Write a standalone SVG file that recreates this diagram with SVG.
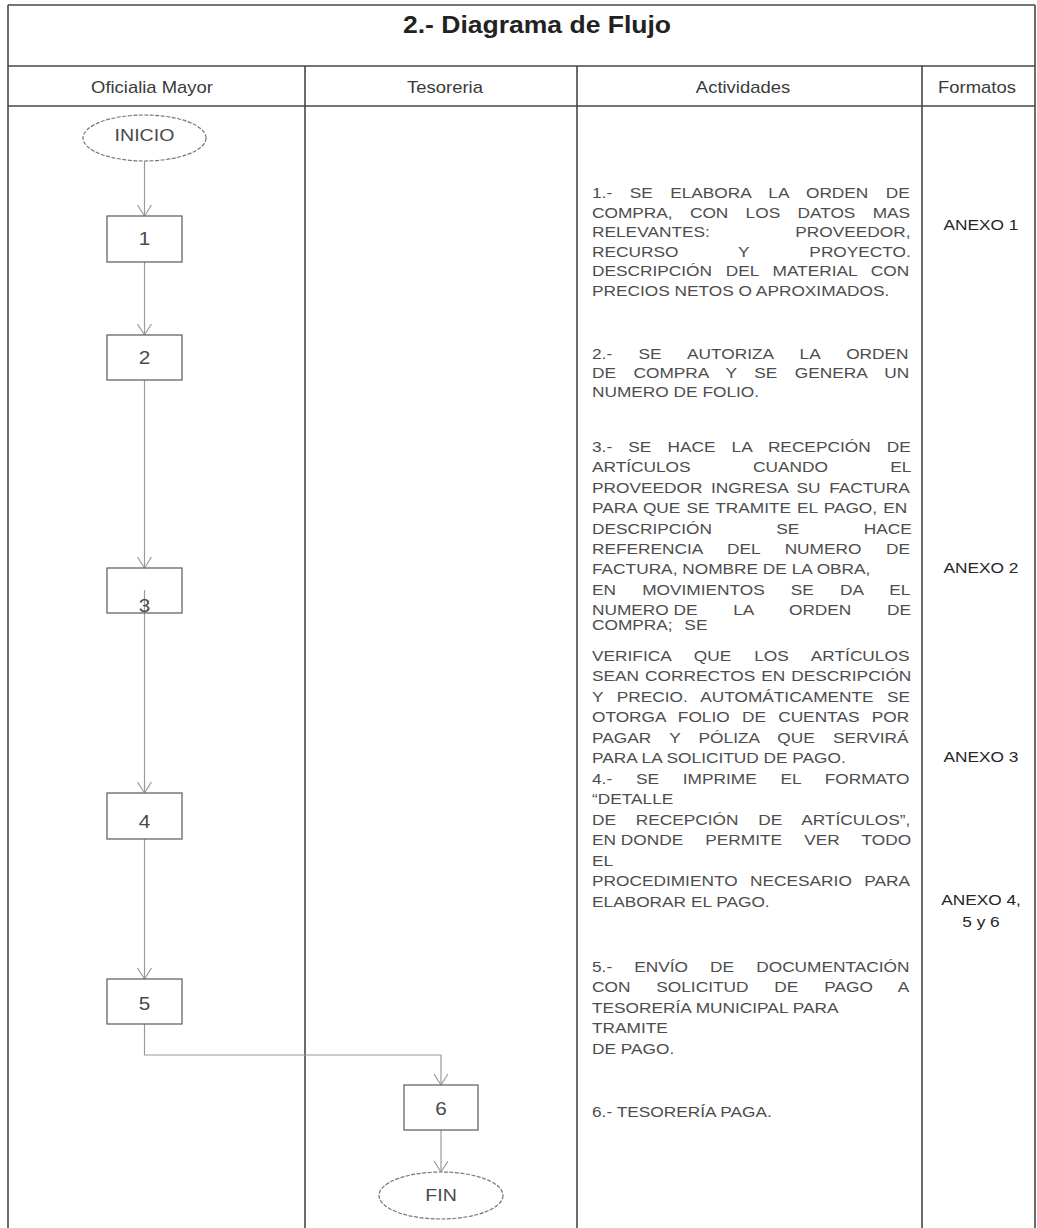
<svg xmlns="http://www.w3.org/2000/svg" width="1037" height="1228" viewBox="0 0 1037 1228">
<defs>
<style>
.frame{stroke:#474747;stroke-width:1.6;fill:none}
.box{fill:#fff;stroke:#666;stroke-width:1.3}
.term{fill:#fff;stroke:#777;stroke-width:1.2;stroke-dasharray:4 1.5}
.conn{stroke:#9a9a9a;stroke-width:1.2;fill:none}
.lbl{font-family:"Liberation Sans",Arial,sans-serif;font-size:18px;fill:#4a4a4a;text-anchor:middle}
.act{font-family:"Liberation Sans",Arial,sans-serif;font-size:15px;fill:#4d4d4d}
.anx{font-family:"Liberation Sans",Arial,sans-serif;font-size:15px;fill:#262626;text-anchor:middle}
.hdr{font-family:"Liberation Sans",Arial,sans-serif;font-size:16px;fill:#3a3a3a;text-anchor:middle}
.ttl{font-family:"Liberation Sans",Arial,sans-serif;font-size:23px;font-weight:bold;fill:#222;text-anchor:middle}
</style>
<marker id="arr" markerUnits="userSpaceOnUse" markerWidth="13" markerHeight="16" refX="11" refY="7" orient="auto">
<path d="M0,0 L11,7 L0,14" fill="none" stroke="#9a9a9a" stroke-width="1.2"/>
</marker>
</defs>
<rect width="1037" height="1228" fill="#fff"/>

<g id="frame" class="frame">
<path d="M8,5 H1035 M8,5 V1228 M1035,5 V1228 M8,66 H1035 M8,106 H1035 M305,66 V1228 M577,66 V1228 M922,66 V1228"/>
</g>

<g id="title">
<text class="ttl" transform="translate(537,33) scale(1.153,1)">2.- Diagrama de Flujo</text>
</g>
<g id="headers">
<text class="hdr" transform="translate(152,93) scale(1.153,1)">Oficialia Mayor</text>
<text class="hdr" transform="translate(445,93) scale(1.153,1)">Tesoreria</text>
<text class="hdr" transform="translate(743,93) scale(1.153,1)">Actividades</text>
<text class="hdr" transform="translate(977,93) scale(1.153,1)">Formatos</text>
</g>

<g id="connectors">
<line class="conn" x1="144.5" y1="161" x2="144.5" y2="216" marker-end="url(#arr)"/>
<line class="conn" x1="144.5" y1="262" x2="144.5" y2="335" marker-end="url(#arr)"/>
<line class="conn" x1="144.5" y1="380" x2="144.5" y2="568" marker-end="url(#arr)"/>
<line class="conn" x1="144.5" y1="590" x2="144.5" y2="793" marker-end="url(#arr)"/>
<line class="conn" x1="144.5" y1="839" x2="144.5" y2="979" marker-end="url(#arr)"/>
<path class="conn" d="M144.5,1024 V1055 H441 V1085" marker-end="url(#arr)"/>
<line class="conn" x1="441" y1="1130" x2="441" y2="1172" marker-end="url(#arr)"/>
</g>

<g id="inicio">
<ellipse class="term" cx="144.5" cy="138" rx="61.5" ry="23"/>
<text class="lbl" transform="translate(144.5,141) scale(1.153,1)" style="font-size:17px">INICIO</text>
</g>
<g id="n1">
<rect class="box" x="107" y="216" width="75" height="46"/>
<text class="lbl" transform="translate(144.5,245) scale(1.153,1)">1</text>
</g>
<g id="n2">
<rect class="box" x="107" y="335" width="75" height="45"/>
<text class="lbl" transform="translate(144.5,364) scale(1.153,1)">2</text>
</g>
<g id="n3">
<rect class="box" x="107" y="568" width="75" height="45" style="fill:none"/>
<text class="lbl" transform="translate(144.5,612) scale(1.153,1)">3</text>
</g>
<g id="n4">
<rect class="box" x="107" y="793" width="75" height="46"/>
<text class="lbl" transform="translate(144.5,828) scale(1.153,1)">4</text>
</g>
<g id="n5">
<rect class="box" x="107" y="979" width="75" height="45"/>
<text class="lbl" transform="translate(144.5,1010) scale(1.153,1)">5</text>
</g>
<g id="n6">
<rect class="box" x="404" y="1085" width="74" height="45"/>
<text class="lbl" transform="translate(441,1115) scale(1.153,1)">6</text>
</g>
<g id="fin">
<ellipse class="term" cx="441" cy="1195.5" rx="62" ry="23.5"/>
<text class="lbl" transform="translate(441,1201) scale(1.153,1)" style="font-size:17px">FIN</text>
</g>

<g id="actividades" class="act" transform="translate(592,0) scale(1.153,1)">
<text x="0" y="198" word-spacing="10.99">1.- SE ELABORA LA ORDEN DE</text>
<text x="0" y="218" word-spacing="10.82">COMPRA, CON LOS DATOS MAS</text>
<text x="0" y="237" word-spacing="69.94">RELEVANTES: PROVEEDOR,</text>
<text x="0" y="257" word-spacing="47.9">RECURSO Y PROYECTO.</text>
<text x="0" y="276" word-spacing="7.77">DESCRIPCIÓN DEL MATERIAL CON</text>
<text x="0" y="296">PRECIOS NETOS O APROXIMADOS.</text>

<text x="0" y="359" word-spacing="18.74">2.- SE AUTORIZA LA ORDEN</text>
<text x="0" y="378" word-spacing="11">DE COMPRA Y SE GENERA UN</text>
<text x="0" y="397">NUMERO DE FOLIO.</text>

<text x="0" y="452" word-spacing="9.82">3.- SE HACE LA RECEPCIÓN DE</text>
<text x="0" y="472" word-spacing="50">ARTÍCULOS CUANDO EL</text>
<text x="0" y="493" word-spacing="3.33">PROVEEDOR INGRESA SU FACTURA</text>
<text x="0" y="513" word-spacing="1.1">PARA QUE SE TRAMITE EL PAGO, EN</text>
<text x="0" y="534" word-spacing="51.65">DESCRIPCIÓN SE HACE</text>
<text x="0" y="554" word-spacing="17.2">REFERENCIA DEL NUMERO DE</text>
<text x="0" y="574">FACTURA, NOMBRE DE LA OBRA,</text>
<text x="0" y="595" word-spacing="18.5">EN MOVIMIENTOS SE DA EL</text>
<text x="0" y="615">NUMERO DE<tspan word-spacing="26.7"> LA ORDEN DE</tspan></text>
<text x="0" y="630" word-spacing="6">COMPRA; SE</text>
<text x="0" y="661" word-spacing="15.8">VERIFICA QUE LOS ARTÍCULOS</text>
<text x="0" y="681" word-spacing="1.1">SEAN CORRECTOS EN DESCRIPCIÓN</text>
<text x="0" y="702" word-spacing="7.5">Y PRECIO. AUTOMÁTICAMENTE SE</text>
<text x="0" y="722" word-spacing="6.45">OTORGA FOLIO DE CUENTAS POR</text>
<text x="0" y="743" word-spacing="11.65">PAGAR Y PÓLIZA QUE SERVIRÁ</text>
<text x="0" y="763">PARA LA SOLICITUD DE PAGO.</text>
<text x="0" y="784" word-spacing="16.45">4.- SE IMPRIME EL FORMATO</text>
<text x="0" y="804">“DETALLE</text>
<text x="0" y="825" word-spacing="13">DE RECEPCIÓN DE ARTÍCULOS”,</text>
<text x="0" y="845">EN DONDE<tspan word-spacing="15"> PERMITE VER TODO</tspan></text>
<text x="0" y="866">EL</text>
<text x="0" y="886" word-spacing="6.65">PROCEDIMIENTO NECESARIO PARA</text>
<text x="0" y="907">ELABORAR EL PAGO.</text>

<text x="0" y="972" word-spacing="15">5.- ENVÍO DE DOCUMENTACIÓN</text>
<text x="0" y="992" word-spacing="18.3">CON SOLICITUD DE PAGO A</text>
<text x="0" y="1013">TESORERÍA MUNICIPAL PARA</text>
<text x="0" y="1033">TRAMITE</text>
<text x="0" y="1054">DE PAGO.</text>

<text x="0" y="1117">6.- TESORERÍA PAGA.</text>
</g>

<g id="formatos" class="anx" transform="translate(981,0) scale(1.153,1)">
<text x="0" y="230">ANEXO 1</text>
<text x="0" y="573">ANEXO 2</text>
<text x="0" y="762">ANEXO 3</text>
<text x="0" y="905">ANEXO 4,</text>
<text x="0" y="927">5 y 6</text>
</g>
</svg>
